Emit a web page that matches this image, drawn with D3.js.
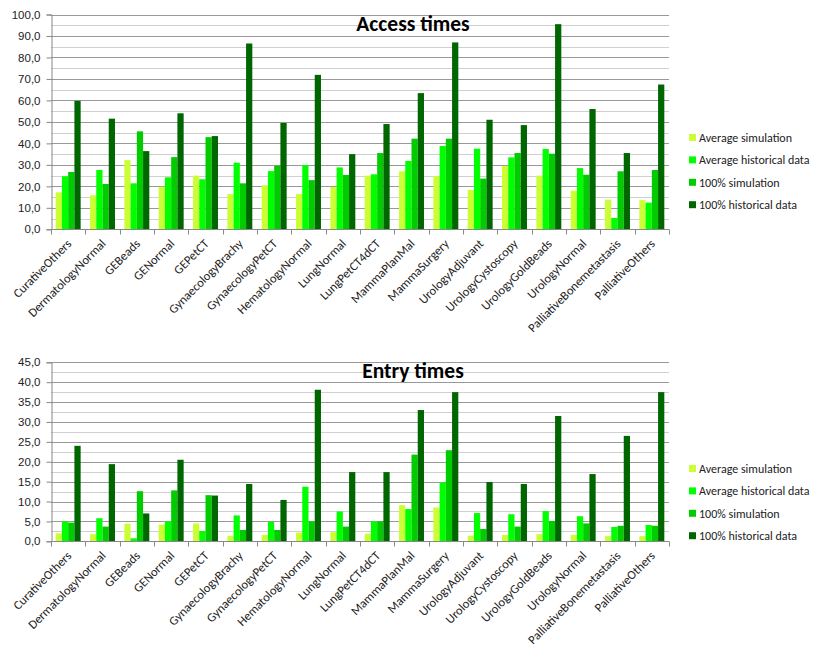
<!DOCTYPE html>
<html>
<head>
<meta charset="utf-8">
<script src="https://cdn.jsdelivr.net/npm/d3@7"></script>
<style>
  body { margin: 0; background: #fff; }
  svg { font-family: Calibri, Carlito, Lato, "Open Sans", sans-serif; }
</style>
</head>
<body>
<div id="chart"></div>
<script>
const categories = ['CurativeOthers', 'DermatologyNormal', 'GEBeads', 'GENormal', 'GEPetCT',
  'GynaecologyBrachy', 'GynaecologyPetCT', 'HematologyNormal', 'LungNormal', 'LungPetCT4dCT',
  'MammaPlanMal', 'MammaSurgery', 'UrologyAdjuvant', 'UrologyCystoscopy', 'UrologyGoldBeads',
  'UrologyNormal', 'PalliativeBonemetastasis', 'PalliativeOthers'];

const seriesNames = ['Average simulation', 'Average historical data', '100% simulation', '100% historical data'];
const colors = ['#ccff33', '#00ff00', '#00cc00', '#006600'];

// Access times
const accessAvgSim  = [17.2, 15.8, 32.2, 19.8, 25.0, 16.4, 20.5, 16.4, 19.7, 25.0, 27.0, 24.8, 18.3, 29.5, 25.0, 18.0, 13.8, 13.6];
const accessAvgHist = [24.7, 27.6, 21.4, 24.2, 23.3, 31.0, 27.1, 29.9, 28.8, 25.6, 31.8, 38.8, 37.5, 33.5, 37.4, 28.5, 5.3, 12.4];
const access100Sim  = [26.7, 21.1, 45.6, 33.6, 42.9, 21.4, 29.6, 22.9, 25.3, 35.5, 42.2, 42.2, 23.6, 35.5, 35.2, 25.4, 27.0, 27.6];
const access100Hist = [59.8, 51.5, 36.4, 54.0, 43.4, 86.5, 49.5, 71.9, 35.0, 49.0, 63.4, 87.0, 51.0, 48.5, 95.5, 56.0, 35.5, 67.4];

// Entry times
const entryAvgSim  = [2.0, 1.8, 4.4, 4.2, 4.5, 1.4, 1.6, 2.2, 2.3, 1.9, 9.1, 8.5, 1.4, 1.6, 1.8, 1.6, 1.3, 1.3];
const entryAvgHist = [5.0, 5.8, 0.75, 5.0, 2.6, 6.5, 4.9, 13.7, 7.5, 5.0, 8.1, 14.8, 7.1, 6.8, 7.6, 6.3, 3.6, 4.1];
const entry100Sim  = [4.7, 3.7, 12.6, 12.8, 11.6, 2.85, 2.85, 5.0, 3.7, 5.0, 21.8, 22.9, 3.1, 3.7, 5.1, 4.5, 3.9, 3.9];
const entry100Hist = [24.0, 19.4, 7.0, 20.5, 11.5, 14.4, 10.4, 38.1, 17.4, 17.4, 33.0, 37.5, 14.9, 14.4, 31.5, 16.9, 26.5, 37.5];

const accessTicks = d3.range(0, 101, 10);
const entryTicks = d3.range(0, 46, 5);

const width = 816, height = 648;
const svg = d3.select('#chart').append('svg')
  .attr('width', width)
  .attr('height', height);

const fmt = v => d3.format('.1f')(v).replace('.', ',');

function drawChart(opts) {
  const { title, series, ticks, yMax, top, bottom, titleY, legendY } = opts;
  const left = 51, right = 669;

  const x = d3.scaleBand().domain(categories).range([left, right]);
  const y = d3.scaleLinear().domain([0, yMax]).range([bottom, top]);
  const step = ticks[1] - ticks[0];

  const g = svg.append('g');

  // minor gridlines
  g.selectAll('.minor').data(ticks.slice(0, -1).map(t => t + step / 2))
    .join('line')
    .attr('x1', left).attr('x2', right)
    .attr('y1', d => Math.round(y(d)) + 0.5).attr('y2', d => Math.round(y(d)) + 0.5)
    .attr('stroke', '#d0d0d0');
  // major gridlines
  g.selectAll('.major').data(ticks.slice(1))
    .join('line')
    .attr('x1', left).attr('x2', right)
    .attr('y1', d => Math.round(y(d)) + 0.5).attr('y2', d => Math.round(y(d)) + 0.5)
    .attr('stroke', '#999');

  // bars: 4 bars per category, gap = 1.5 bar widths
  const groups = g.selectAll('.grp').data(categories)
    .join('g')
    .attr('transform', d => `translate(${x(d)},0)`);
  const bw = x.bandwidth() / 5.5;
  groups.selectAll('rect')
    .data((d, i) => series.map((s, k) => ({ k, v: s[i] })))
    .join('rect')
    .attr('x', d => bw * 0.75 + d.k * bw)
    .attr('width', bw)
    .attr('y', d => y(d.v))
    .attr('height', d => y(0) - y(d.v))
    .attr('fill', d => colors[d.k]);

  // y axis
  const yAxis = d3.axisLeft(y).tickValues(ticks).tickSize(5).tickFormat(fmt);
  const ya = g.append('g').attr('transform', `translate(${left + 0.5},0)`).call(yAxis);
  ya.select('.domain').attr('stroke', '#888');
  ya.selectAll('.tick line').attr('stroke', '#888');
  ya.selectAll('.tick text').attr('font-size', 11.5).attr('fill', '#222').attr('x', -11);

  // x axis
  const xa = g.append('g').attr('transform', `translate(0,${Math.round(bottom) + 0.5})`);
  xa.append('line').attr('x1', left).attr('x2', right).attr('stroke', '#888');
  xa.selectAll('.tk').data(d3.range(categories.length + 1))
    .join('line')
    .attr('x1', i => Math.round(left + i * x.step()) + 0.5)
    .attr('x2', i => Math.round(left + i * x.step()) + 0.5)
    .attr('y1', 0).attr('y2', 5)
    .attr('stroke', '#888');
  xa.selectAll('text').data(categories)
    .join('text')
    .attr('transform', d => `translate(${x(d) + x.bandwidth() / 2 + 4},${15}) rotate(-45)`)
    .attr('text-anchor', 'end')
    .attr('font-size', 12.5)
    .attr('fill', '#222')
    .text(d => d);

  // title
  g.append('text')
    .attr('x', 413).attr('y', titleY)
    .attr('text-anchor', 'middle')
    .attr('font-size', 21.5)
    .attr('font-weight', 'bold')
    .text(title);

  // legend
  const lg = g.append('g').attr('transform', `translate(689,${legendY})`);
  const items = lg.selectAll('g').data(seriesNames)
    .join('g')
    .attr('transform', (d, i) => `translate(0,${i * 22.4})`);
  items.append('rect').attr('x', 0).attr('y', -4).attr('width', 7).attr('height', 7)
    .attr('fill', (d, i) => colors[i]);
  items.append('text').attr('x', 10).attr('y', 4)
    .attr('font-size', 12).attr('fill', '#222')
    .text(d => d);
}

drawChart({
  title: 'Access times',
  series: [accessAvgSim, accessAvgHist, access100Sim, access100Hist],
  ticks: accessTicks, yMax: 100,
  top: 14.5, bottom: 229.3, titleY: 31, legendY: 138
});

drawChart({
  title: 'Entry times',
  series: [entryAvgSim, entryAvgHist, entry100Sim, entry100Hist],
  ticks: entryTicks, yMax: 45,
  top: 362.3, bottom: 541.3, titleY: 378, legendY: 469
});
</script>
</body>
</html>
